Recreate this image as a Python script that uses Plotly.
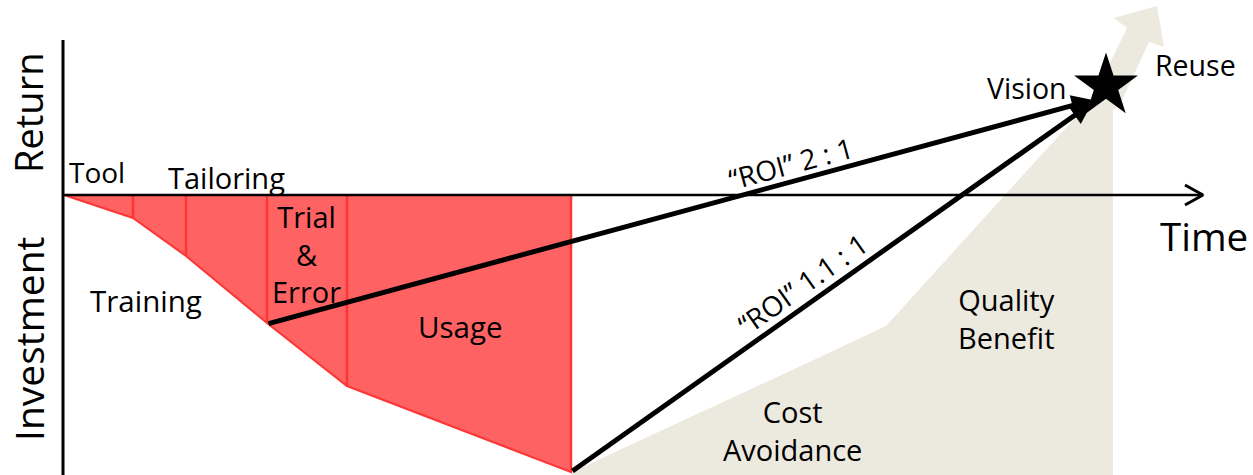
import math
import plotly.graph_objects as go

# Investment phases: cumulative time at the end of each phase and cumulative cost
phase_time = [0, 69, 122, 203, 283, 507]
phase_cost = [0, -23, -61, -128, -191, -277]

# Benefit area (cost avoidance + quality benefit, ending in the reuse arrow)
benefit_t = [508, 508, 756, 822, 1029, 1063, 1050, 1093, 1100, 1085, 1056, 1049, 1049]
benefit_v = [-280, -277, -162, -131, 97, 167, 177, 189, 148, 153, 90, 85, -280]

# Vision target and the two return paths
vision = (1042, 109)
roi_paths = [
    {"label": "“ROI” 2 : 1", "start": (203, -129), "end": (1029, 95), "pos": (727, 32)},
    {"label": "“ROI” 1.1 : 1", "start": (507, -277), "end": (1028, 92), "pos": (738, -89)},
]

# Text labels: (text, t, v, size)
labels = [
    ("Tool", 33, 23, 28),
    ("Tailoring", 162, 18, 29),
    ("Training", 82, -105, 29.5),
    ("Trial<br>&<br>Error", 242, -59, 29),
    ("Usage", 396, -131, 29.5),
    ("Cost<br>Avoidance", 728, -235, 29),
    ("Quality<br>Benefit", 942, -123, 29),
    ("Vision", 963, 107, 28.5),
    ("Reuse", 1131, 130, 28.5),
    ("Time", 1140, -41, 38.5),
]

# Axis geometry
time_axis_end = 1139
value_axis_top = 155
value_axis_bottom = -280

RED_FILL = "#FF6262"
RED_EDGE = "#FF3535"
BEIGE = "#ECE9DF"
FONT = "Open Sans"

fig = go.Figure()

# Benefit region
fig.add_trace(go.Scatter(
    x=benefit_t, y=benefit_v, fill="toself", fillcolor=BEIGE,
    mode="lines", line=dict(width=0, color=BEIGE), hoverinfo="skip",
))

# Investment region
inv_t = phase_time + [phase_time[-1], phase_time[0]]
inv_v = phase_cost + [0, 0]
fig.add_trace(go.Scatter(
    x=inv_t, y=inv_v, fill="toself", fillcolor=RED_FILL,
    mode="lines", line=dict(width=2, color=RED_EDGE), hoverinfo="skip",
))

# Phase dividers
for t, c in zip(phase_time[1:], phase_cost[1:]):
    fig.add_trace(go.Scatter(
        x=[t, t], y=[c, 0], mode="lines",
        line=dict(width=2.5, color=RED_EDGE), hoverinfo="skip",
    ))

# Time axis with open arrowhead
fig.add_trace(go.Scatter(
    x=[0, time_axis_end], y=[0, 0], mode="lines",
    line=dict(width=2.5, color="black"), hoverinfo="skip",
))
fig.add_trace(go.Scatter(
    x=[time_axis_end - 18, time_axis_end, time_axis_end - 18], y=[10, 0, -10],
    mode="lines", line=dict(width=3, color="black"), hoverinfo="skip",
))

# Value axis
fig.add_trace(go.Scatter(
    x=[-1, -1], y=[value_axis_top, value_axis_bottom], mode="lines",
    line=dict(width=3, color="black"), hoverinfo="skip",
))

# Return paths with arrows
for p in roi_paths:
    (x0, y0), (x1, y1) = p["start"], p["end"]
    fig.add_annotation(
        x=x1, y=y1, ax=x0, ay=y0, xref="x", yref="y", axref="x", ayref="y",
        text="", showarrow=True, arrowhead=2, arrowsize=0.85, arrowwidth=5,
        arrowcolor="black", standoff=0, startstandoff=0,
    )
    angle = -math.degrees(math.atan2(y1 - y0, x1 - x0))
    fig.add_annotation(
        x=p["pos"][0], y=p["pos"][1], xref="x", yref="y", text=p["label"],
        showarrow=False, textangle=angle,
        font=dict(family=FONT, size=28, color="black"),
    )

# Vision star
fig.add_trace(go.Scatter(
    x=[vision[0]], y=[vision[1]], mode="markers",
    marker=dict(symbol="star", size=48, color="black", line=dict(width=0)),
    hoverinfo="skip",
))

for text, t, v, size in labels:
    fig.add_annotation(
        x=t, y=v, xref="x", yref="y", text=text, showarrow=False,
        font=dict(family=FONT, size=size, color="black"),
    )

for text, v, size in [("Return", 82, 38), ("Investment", -144, 39)]:
    fig.add_annotation(
        x=-36, y=v, xref="x", yref="y", text=text, showarrow=False, textangle=-90,
        font=dict(family=FONT, size=size, color="black"),
    )

fig.update_layout(
    width=1253, height=475, margin=dict(l=0, r=0, t=0, b=0),
    paper_bgcolor="white", plot_bgcolor="white", showlegend=False,
    xaxis=dict(range=[-64, 1189], visible=False, fixedrange=True),
    yaxis=dict(range=[-280, 195], visible=False, fixedrange=True),
)

fig.write_html("out.html")
